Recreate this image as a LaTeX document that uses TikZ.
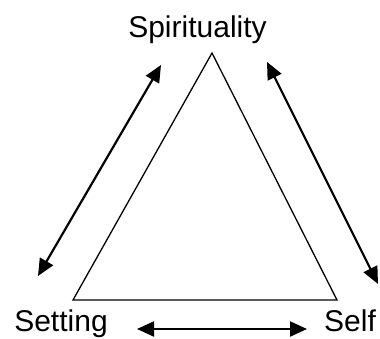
\documentclass[tikz,border=0pt]{standalone}
\usepackage{fontspec}
\setmainfont{Liberation Sans}
\usetikzlibrary{arrows.meta}
\begin{document}
\begin{tikzpicture}[x=1pt,y=-1pt,
  lbl/.style={anchor=base,inner sep=0pt,font=\fontsize{30}{36}\selectfont},
  tri/.style={line width=1.3pt},
  dbl/.style={line width=2.2pt,{Triangle[length=17pt,width=15pt]}-{Triangle[length=17pt,width=15pt]}}]
\useasboundingbox[fill=white] (0,0) rectangle (380,339);
\node[lbl] (spi) at (197.5,38) {Spirituality};
\node[lbl] (set) at (61,331) {Setting};
\node[lbl] (sel) at (350,331) {Self};
\coordinate (A) at (212,53);
\coordinate (B) at (73,300);
\coordinate (C) at (337,300);
\draw[tri] (A) -- (B) -- (C) -- cycle;
\coordinate (l1) at (161,65);
\coordinate (l2) at (38,276);
\coordinate (r1) at (267,62);
\coordinate (r2) at (378,284);
\coordinate (b1) at (137,329);
\coordinate (b2) at (307,329);
\draw[dbl] (l1) -- (l2);
\draw[dbl] (r1) -- (r2);
\draw[dbl] (b1) -- (b2);
\end{tikzpicture}
\end{document}
